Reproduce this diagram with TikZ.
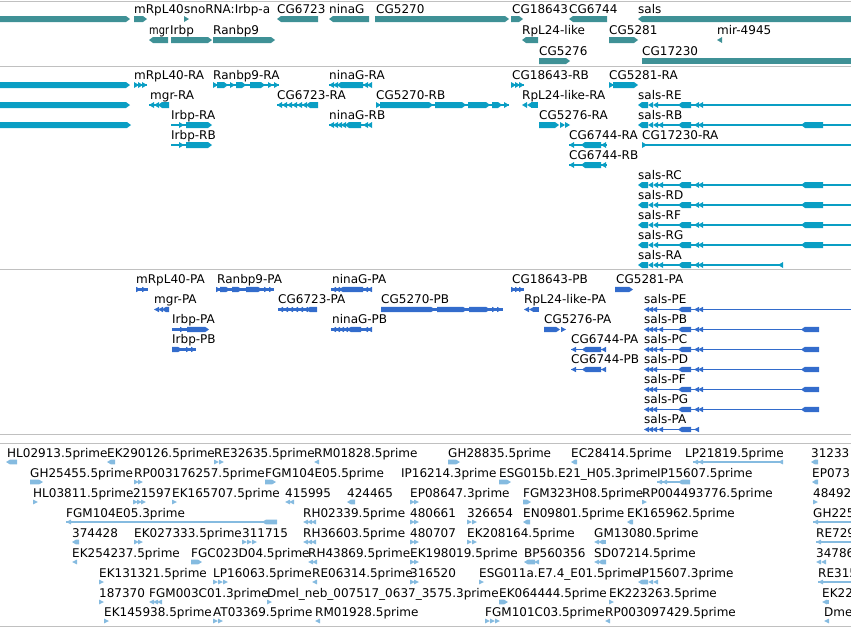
\documentclass[tikz,border=0pt]{standalone}
\usepackage{fontspec}
\setmainfont{DejaVu Sans}
\definecolor{trkA}{HTML}{3F9196}
\definecolor{trkB}{HTML}{0A9EC4}
\definecolor{trkC}{HTML}{336CCC}
\definecolor{trkD}{HTML}{85BBE0}
\definecolor{sepgray}{HTML}{C0C0C0}
\colorlet{featc}{trkA}
\newcounter{labno}
\def\halfh{3}
\def\labofs{6}
% feature glyphs: x1, x2, y (pixels)
\newcommand{\chR}[2]{\fill[featc] (#1,#2-\halfh) -- (#1+5,#2) -- (#1,#2+\halfh) -- cycle;}
\newcommand{\chL}[2]{\fill[featc] (#1,#2) -- (#1+5,#2-\halfh) -- (#1+5,#2+\halfh) -- cycle;}
\newcommand{\exR}[3]{\fill[featc] (#1,#3-\halfh) -- (#2-4,#3-\halfh) -- (#2,#3) -- (#2-4,#3+\halfh) -- (#1,#3+\halfh) -- cycle;}
\newcommand{\exL}[3]{\fill[featc] (#1,#3) -- (#1+4,#3-\halfh) -- (#2,#3-\halfh) -- (#2,#3+\halfh) -- (#1+4,#3+\halfh) -- cycle;}
\newcommand{\exB}[3]{\fill[featc] (#1,#3-\halfh) rectangle (#2,#3+\halfh);}
\newcommand{\gline}[3]{\fill[featc] (#1,#3-0.6) rectangle (#2,#3+0.6);}
\newcommand{\gthin}[3]{\fill[featc] (#1,#3-1.3) rectangle (#2,#3+1.3);}
\newcommand{\lab}[3]{\stepcounter{labno}\node[glabel] (lab\arabic{labno}) at (#1,#2-\labofs) {#3};}
% common sals exons
\newcommand{\salsrna}[1]{\exL{638}{648}{#1}\chL{648}{#1}\chL{653}{#1}\exL{678}{691}{#1}\chL{694}{#1}\chL{698}{#1}}
\newcommand{\salsprot}[1]{\chL{644}{#1}\chL{648}{#1}\chL{652}{#1}\exL{678}{691}{#1}\chL{694}{#1}}
\newcommand{\cgsixRA}[1]{\gline{569}{607}{#1}\chL{569}{#1}\exL{581}{601}{#1}\chL{601}{#1}}
\tikzset{
  glabel/.style={anchor=base west, inner sep=0pt, font=\fontsize{12}{14}\selectfont, text=black},
  sepline/.style={draw=sepgray, line width=1pt}
}
\begin{document}
\begin{tikzpicture}[x=1pt,y=-1pt]
\useasboundingbox (0,0) rectangle (851,627);
\clip (0,0) rectangle (851,627);
\foreach \yy in {1,66,269,434,443,626}
  \draw[sepline] (0,\yy) -- (851,\yy);

% genes
\colorlet{featc}{trkA}
\exR{0}{130}{19}
\lab{134}{19}{mRpL40}\exR{134}{147}{19}
\lab{184}{19}{snoRNA:Irbp-a}\chR{184}{19}
\lab{277}{19}{CG6723}\exL{277}{318}{19}
\lab{329}{19}{ninaG}\exL{329}{369}{19}
\lab{376}{19}{CG5270}\exR{375}{509}{19}
\lab{512}{19}{CG18643}\exR{511}{523}{19}
\lab{569}{19}{CG6744}\exL{569}{607}{19}
\lab{638}{19}{sals}\exL{638}{860}{19}
\lab{149}{40}{\scalebox{0.82}[1]{mgr}}\exL{149}{168}{40}
\lab{170}{40}{Irbp}\exR{171}{212}{40}
\lab{213}{40}{Ranbp9}\exR{213}{275}{40}
\lab{522}{40}{RpL24-like}\exL{522}{538}{40}
\lab{609}{40}{CG5281}\exR{609}{638}{40}
\lab{717}{40}{mir-4945}\chL{717}{40}
\lab{539}{61}{CG5276}\exR{539}{570}{61}
\lab{642}{61}{CG17230}\exB{642}{860}{61}

% transcripts
\colorlet{featc}{trkB}
\exR{0}{130}{85}
\lab{134}{85}{mRpL40-RA}\gthin{134}{147}{85}\chR{134}{85}\chR{138}{85}\chR{142}{85}
\lab{213}{85}{Ranbp9-RA}\gthin{213}{279}{85}\chR{213}{85}\exR{217}{228}{85}\chR{230}{85}\exR{236}{246}{85}\exR{250}{265}{85}\chR{268}{85}\chR{274}{85}
\lab{329}{85}{ninaG-RA}\gthin{329}{372}{85}\chL{329}{85}\chL{333}{85}\exL{337}{363}{85}\chL{363}{85}\chL{367}{85}
\lab{512}{85}{CG18643-RB}\gthin{511}{524}{85}\chR{511}{85}\chR{515}{85}\chR{519}{85}
\lab{609}{85}{CG5281-RA}\chR{609}{85}\exR{613}{638}{85}
\exR{0}{130}{105}
\lab{150}{105}{mgr-RA}\gthin{149}{169}{105}\chL{149}{105}\chL{154}{105}\exL{158}{169}{105}
\lab{277}{105}{CG6723-RA}\gthin{277}{318}{105}
\foreach \cx in {277,282,...,302}{\chL{\cx}{105}}
\exL{306}{318}{105}
\lab{376}{105}{CG5270-RB}\gthin{376}{509}{105}\chR{376}{105}\exR{380}{433}{105}\exR{435}{466}{105}\exR{468}{490}{105}\exR{492}{502}{105}\chR{504}{105}
\lab{522}{105}{RpL24-like-RA}\chL{522}{105}\chL{527}{105}\exB{531}{538}{105}
\lab{638}{105}{sals-RE}\gline{655}{860}{105}\salsrna{105}
\exR{0}{131}{125}
\lab{171}{125}{Irbp-RA}\gthin{171}{187}{125}\chR{179}{125}\exR{186}{212}{125}
\lab{329}{125}{ninaG-RB}\gthin{329}{372}{125}
\foreach \cx in {329,333,337,341}{\chL{\cx}{125}}
\exL{345}{361}{125}\chL{363}{125}\chL{367}{125}
\lab{539}{125}{CG5276-RA}\exR{539}{559}{125}\chR{560}{125}\chR{565}{125}
\lab{638}{125}{sals-RB}\gline{655}{860}{125}\salsrna{125}\chL{658}{125}\exL{801}{823}{125}
\lab{171}{145}{Irbp-RB}\gthin{171}{187}{145}\chR{179}{145}\exR{186}{212}{145}
\lab{569}{145}{CG6744-RA}\cgsixRA{145}
\lab{642}{145}{CG17230-RA}\gline{642}{860}{145}\chR{642}{145}
\lab{569}{165}{CG6744-RB}\cgsixRA{165}
\lab{638}{185}{sals-RC}\gline{655}{860}{185}\salsrna{185}\chL{658}{185}\exL{801}{823}{185}
\lab{638}{205}{sals-RD}\gline{655}{860}{205}\salsrna{205}\exL{801}{823}{205}
\lab{638}{225}{sals-RF}\gline{655}{860}{225}\salsrna{225}\exL{801}{823}{225}
\lab{638}{245}{sals-RG}\gline{655}{860}{245}\salsrna{245}\exL{801}{823}{245}
\lab{638}{265}{sals-RA}\gline{655}{783}{265}\salsrna{265}\chL{658}{265}\chL{778}{265}

% proteins
\colorlet{featc}{trkC}\def\halfh{2.7}
\lab{136}{289.5}{mRpL40-PA}\gthin{136}{148}{289.5}\chR{136}{289.5}\chR{142}{289.5}
\lab{217}{289.5}{Ranbp9-PA}\gthin{216}{274}{289.5}\chR{216}{289.5}\exR{220}{230}{289.5}\exR{232}{242}{289.5}\exR{246}{262}{289.5}\chR{264}{289.5}\chR{269}{289.5}
\lab{332}{289.5}{ninaG-PA}\gthin{331}{372}{289.5}\chL{331}{289.5}\chL{335}{289.5}\exL{339}{363}{289.5}\chL{363}{289.5}\chL{367}{289.5}
\lab{512}{289.5}{CG18643-PB}\gthin{511}{524}{289.5}\chR{511}{289.5}\chR{515}{289.5}\chR{519}{289.5}
\lab{616}{289.5}{CG5281-PA}\exR{615}{633}{289.5}
\lab{154}{309.5}{mgr-PA}\chL{154}{309.5}\chL{158}{309.5}\exL{162}{169}{309.5}
\lab{278}{309.5}{CG6723-PA}\gthin{278}{317}{309.5}
\foreach \cx in {278,283,...,303}{\chL{\cx}{309.5}}
\exL{306}{317}{309.5}
\lab{381}{309.5}{CG5270-PB}\gthin{381}{503}{309.5}\exR{381}{435}{309.5}\exR{437}{467}{309.5}\exR{469}{490}{309.5}\chR{492}{309.5}\chR{497}{309.5}
\lab{524}{309.5}{RpL24-like-PA}\chL{524}{309.5}\chL{529}{309.5}\exB{533}{539}{309.5}
\lab{644}{309.5}{sals-PE}\gline{655}{860}{309.5}\salsprot{309.5}\chL{698}{309.5}
\lab{172}{329.5}{Irbp-PA}\gthin{172}{188}{329.5}\chR{180}{329.5}\exR{187}{209}{329.5}
\lab{332}{329.5}{ninaG-PB}\gthin{331}{372}{329.5}
\foreach \cx in {331,335,339,343}{\chL{\cx}{329.5}}
\exL{347}{361}{329.5}\chL{363}{329.5}\chL{367}{329.5}
\lab{544}{329.5}{CG5276-PA}\exR{544}{560}{329.5}\chR{561}{329.5}
\lab{644}{329.5}{sals-PB}\gline{655}{819}{329.5}\salsprot{329.5}\chL{658}{329.5}\chL{698}{329.5}\exL{801}{819}{329.5}
\lab{172}{349.5}{Irbp-PB}\gthin{172}{196}{349.5}\exR{172}{182}{349.5}\chR{186}{349.5}\chR{191}{349.5}
\lab{571}{349.5}{CG6744-PA}\gline{571}{606}{349.5}\chL{571}{349.5}\exL{582}{601}{349.5}\chL{601}{349.5}
\lab{644}{349.5}{sals-PC}\gline{655}{819}{349.5}\salsprot{349.5}\chL{658}{349.5}\chL{698}{349.5}\exL{801}{819}{349.5}
\lab{571}{369.5}{CG6744-PB}\gline{571}{606}{369.5}\chL{571}{369.5}\exL{582}{601}{369.5}\chL{601}{369.5}
\lab{644}{369.5}{sals-PD}\gline{655}{819}{369.5}\salsprot{369.5}\chL{698}{369.5}\exL{801}{819}{369.5}
\lab{644}{389.5}{sals-PF}\gline{655}{819}{389.5}\salsprot{389.5}\chL{698}{389.5}\exL{801}{819}{389.5}
\lab{644}{409.5}{sals-PG}\gline{655}{819}{409.5}\salsprot{409.5}\chL{698}{409.5}\exL{801}{819}{409.5}
\lab{644}{429.5}{sals-PA}\gline{655}{699}{429.5}\salsprot{429.5}\chL{658}{429.5}

% ESTs
\colorlet{featc}{trkD}\def\halfh{2.4}\def\labofs{5}
\lab{7}{462}{HL02913.5prime}\exL{6}{17}{462}
\lab{107}{462}{EK290126.5prime}\exL{107}{115}{462}
\lab{214}{462}{RE32635.5prime}\chR{214}{462}\chR{219}{462}
\lab{314}{462}{RM01828.5prime}\chL{314}{462}
\lab{448}{462}{GH28835.5prime}\exR{448}{460}{462}
\lab{571}{462}{EC28414.5prime}\exL{571}{577}{462}
\lab{685}{462}{LP21819.5prime}\gline{693}{783}{462}\chL{693}{462}\chL{698}{462}\chL{778}{462}
\lab{811}{462}{31233}\exL{811}{818}{462}
\lab{30}{482}{GH25455.5prime}\exR{30}{43}{482}
\lab{134}{482}{RP003176257.5prime}\chR{134}{482}\chR{138}{482}
\lab{265}{482}{FGM104E05.5prime}\exR{265}{276}{482}
\lab{401}{482}{IP16214.3prime}
\lab{499}{482}{ESG015b.E21\_H05.3prime}\exR{499}{511}{482}
\lab{657}{482}{IP15607.5prime}\gline{657}{690}{482}\chL{657}{482}\chL{662}{482}\exL{678}{690}{482}
\lab{812}{482}{EP073}\exL{812}{818}{482}
\lab{33}{502}{HL03811.5prime}\chR{33}{502}
\lab{133}{502}{21597}\chR{133}{502}\chR{137}{502}\chR{141}{502}
\lab{172}{502}{EK165707.5prime}\chR{172}{502}
\lab{285}{502}{415995}\chL{285}{502}\chL{289}{502}
\lab{347}{502}{424465}\exL{347}{355}{502}
\lab{410}{502}{EP08647.3prime}\chR{410}{502}\chR{414}{502}
\lab{523}{502}{FGM323H08.5prime}\exR{523}{531}{502}
\lab{642}{502}{RP004493776.5prime}\chR{642}{502}
\lab{813}{502}{48492}\chR{813}{502}
\lab{66}{522}{FGM104E05.3prime}\gline{66}{277}{522}\chL{66}{522}\exL{262}{277}{522}
\lab{303}{522}{RH02339.5prime}\chL{303}{522}\chL{307}{522}\chL{311}{522}
\lab{410}{522}{480661}\chR{410}{522}\chR{414}{522}
\lab{467}{522}{326654}\chR{467}{522}\chR{472}{522}
\lab{523}{522}{EN09801.5prime}\exL{523}{530}{522}
\lab{627}{522}{EK165962.5prime}\exL{627}{633}{522}
\lab{813}{522}{GH225}\gline{813}{860}{522}\chL{813}{522}
\lab{72}{542}{374428}\exL{72}{79}{542}
\lab{134}{542}{EK027333.5prime}\chR{134}{542}\chR{138}{542}
\lab{242}{542}{311715}\chR{242}{542}\chR{247}{542}\chR{252}{542}
\lab{303}{542}{RH36603.5prime}\chL{303}{542}\chL{307}{542}\chL{311}{542}
\lab{410}{542}{480707}\chR{410}{542}\chR{414}{542}
\lab{467}{542}{EK208164.5prime}\chR{467}{542}\chR{472}{542}
\lab{594}{542}{GM13080.5prime}\chL{594}{542}\chL{598}{542}\exB{602}{606}{542}
\lab{816}{542}{RE729}\gline{816}{860}{542}\chL{816}{542}
\lab{72}{562}{EK254237.5prime}\chL{72}{562}
\lab{191}{562}{FGC023D04.5prime}\exR{191}{202}{562}
\lab{308}{562}{RH43869.5prime}\chL{308}{562}\chL{312}{562}
\lab{410}{562}{EK198019.5prime}\chR{410}{562}\chR{414}{562}
\lab{524}{562}{BP560356}\exL{524}{535}{562}\chL{534}{562}
\lab{594}{562}{SD07214.5prime}\chL{594}{562}\exL{598}{606}{562}
\lab{816}{562}{34786}\chL{816}{562}\chL{821}{562}
\lab{99}{582}{EK131321.5prime}\chR{99}{582}
\lab{213}{582}{LP16063.5prime}\chR{213}{582}\chR{218}{582}\chR{223}{582}
\lab{312}{582}{RE06314.5prime}\chL{312}{582}
\lab{410}{582}{316520}\chR{410}{582}\chR{414}{582}
\lab{479}{582}{ESG011a.E7.4\_E01.5prime}\chR{479}{582}
\lab{638}{582}{IP15607.3prime}\exL{638}{648}{582}\chL{648}{582}\chL{653}{582}
\lab{818}{582}{RE315}\gline{818}{860}{582}\chL{818}{582}
\lab{99}{602}{187370}\chR{99}{602}
\lab{149}{602}{FGM003C01.3prime}\chL{149}{602}\chL{153}{602}\chL{157}{602}
\lab{267}{602}{Dmel\_neb\_007517\_0637\_3575.3prime}\chR{267}{602}
\lab{499}{602}{EK064444.5prime}\exR{499}{508}{602}
\lab{609}{602}{EK223263.5prime}\chR{609}{602}
\lab{822}{602}{EK22}\chL{822}{602}\exB{826}{829}{602}
\lab{104}{621}{EK145938.5prime}\chR{104}{621}
\lab{213}{621}{AT03369.5prime}\chR{213}{621}\chR{218}{621}
\lab{315}{621}{RM01928.5prime}\chL{315}{621}
\lab{485}{621}{FGM101C03.5prime}\chR{485}{621}\chR{490}{621}\chR{495}{621}
\lab{605}{621}{RP003097429.5prime}\chL{605}{621}
\lab{824}{621}{Dme}\chL{824}{621}
\end{tikzpicture}
\end{document}
